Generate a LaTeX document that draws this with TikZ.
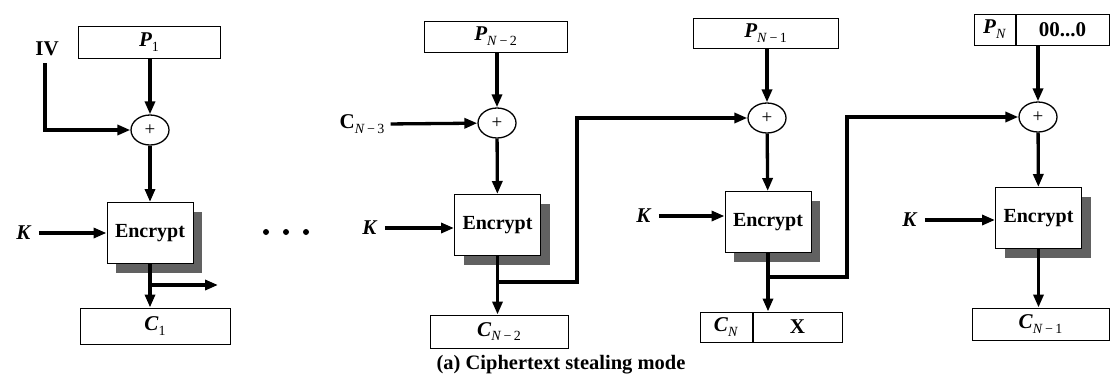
\documentclass[tikz,border=0pt]{standalone}
\usepackage{fontspec}
\setmainfont{Liberation Serif}
\usetikzlibrary{arrows.meta,shadows,shapes.geometric}
\newcommand\mysub[1]{\raisebox{-0.5ex}{\fontsize{14}{14}\selectfont #1}}
\newcommand\lbl[2]{\textbf{\textit{#1}}\mysub{#2}}
\begin{document}
\begin{tikzpicture}[x=1pt,y=-1pt,
  blk/.style={draw, line width=1pt, inner sep=0pt, font=\fontsize{21}{24}\selectfont},
  enc/.style={draw, fill=white, line width=1pt, inner sep=0pt,
    minimum width=86pt, minimum height=61pt,
    font=\fontsize{20}{24}\selectfont\bfseries,
    drop shadow={shadow xshift=9pt, shadow yshift=-9pt, fill=black!62, opacity=1}},
  xor/.style={draw, ellipse, line width=1.3pt, inner sep=0pt,
    minimum width=38pt, minimum height=30pt, font=\fontsize{19}{19}\selectfont},
  lab/.style={inner sep=1pt, font=\fontsize{21}{24}\selectfont},
  arr/.style={line width=3.3pt, line join=miter,
    -{Triangle[length=13pt,width=10pt]}},
  ln/.style={line width=3.3pt, line join=miter}]
\useasboundingbox (0,0) rectangle (1115,376);

% ---------- column 1 ----------
\node[blk, minimum width=142pt, minimum height=32pt] (p1) at (149,42) {\lbl{P}{1}};
\node[xor] (x1) at (150,130) {+};
\node[enc] (e1) at (150,233) {Encrypt};
\node[blk, minimum width=150pt, minimum height=36pt] (c1) at (155,326) {\lbl{C}{1}};
\node[lab] (iv) at (47,49) {\textbf{IV}};
\node[lab] (k1) at (24,233) {\textbf{\textit{K}}};
\coordinate (ivs) at (45,63);
\coordinate (b1) at (150,285);
\coordinate (o1) at (218,285);
\draw[arr] (p1.south -| x1) -- (x1);
\draw[arr] (ivs) |- (x1);
\draw[arr] (x1) -- (e1);
\draw[arr, shorten <=6pt] (k1.east) -- (e1.west |- k1);
\draw[arr] (e1.south) -- (e1.south |- c1.north);
\draw[arr] (b1) -- (o1);

% dots
\foreach \dx/\nm in {266/d1,286/d2,306/d3}
  \node[circle, fill, inner sep=0pt, minimum size=6pt] (\nm) at (\dx,232) {};

% ---------- column 2 ----------
\node[blk, minimum width=143pt, minimum height=31pt] (p2) at (495.5,36.5) {\lbl{P}{\textit{N}\,−\,2}};
\node[xor] (x2) at (497,123) {+};
\node[enc] (e2) at (497.5,225) {Encrypt};
\node[blk, minimum width=138pt, minimum height=33pt] (c2) at (499,331.5) {\lbl{C}{\textit{N}\,−\,2}};
\node[lab] (cn3) at (362,124) {\textbf{C}\mysub{\textit{N}\,−\,3}};
\node[lab] (k2) at (370,228) {\textbf{\textit{K}}};
\coordinate (b2) at (497.5,282);
\coordinate (t2) at (577,118);
\draw[arr] (p2.south -| x2) -- (x2);
\draw[arr, shorten <=5pt] (cn3.east) -- (x2);
\draw[arr] (x2) -- (e2);
\draw[arr, shorten <=6pt] (k2.east) -- (e2.west |- k2);
\draw[arr] (e2.south) -- (e2.south |- c2.north);

% ---------- column 3 ----------
\node[blk, minimum width=145pt, minimum height=30pt] (p3) at (765.5,33) {\lbl{P}{\textit{N}\,−\,1}};
\node[xor] (x3) at (767,118) {+};
\node[enc] (e3) at (768,222) {Encrypt};
\node[blk, minimum width=52pt, minimum height=30pt] (c3a) at (726,327) {\lbl{C}{\textit{N}}};
\node[blk, minimum width=89pt, minimum height=30pt, anchor=west] (c3b) at (c3a.east) {\textbf{X}};
\node[lab] (k3) at (644,216) {\textbf{\textit{K}}};
\coordinate (b3) at (768,277);
\coordinate (t3) at (847,117);
\draw[arr] (p3.south -| x3) -- (x3);
\draw[arr] (b2) -| (t2) -- (x3);
\draw[arr] (x3) -- (e3);
\draw[arr, shorten <=6pt] (k3.east) -- (e3.west |- k3);
\draw[arr] (e3.south) -- (e3.south |- c3b.north);

% ---------- column 4 ----------
\node[blk, minimum width=41pt, minimum height=31pt] (p4a) at (994.5,29.5) {\lbl{P}{\textit{N}}};
\node[blk, minimum width=93pt, minimum height=31pt, anchor=west] (p4b) at (p4a.east) {\textbf{00...0}};
\node[xor] (x4) at (1038,117) {+};
\node[enc] (e4) at (1038.5,218) {Encrypt};
\node[blk, minimum width=137pt, minimum height=32pt] (c4) at (1040.5,324) {\lbl{C}{\textit{N}\,−\,1}};
\node[lab] (k4) at (910,220) {\textbf{\textit{K}}};
\draw[arr] (p4b.south -| x4) -- (x4);
\draw[arr] (b3) -| (t3) -- (x4);
\draw[arr] (x4) -- (e4);
\draw[arr, shorten <=6pt] (k4.east) -- (e4.west |- k4);
\draw[arr] (e4.south) -- (e4.south |- c4.north);

% caption
\node[font=\fontsize{20.5}{24}\selectfont\bfseries, inner sep=0pt] (cap) at (561,365) {(a) Ciphertext stealing mode};
\end{tikzpicture}
\end{document}
